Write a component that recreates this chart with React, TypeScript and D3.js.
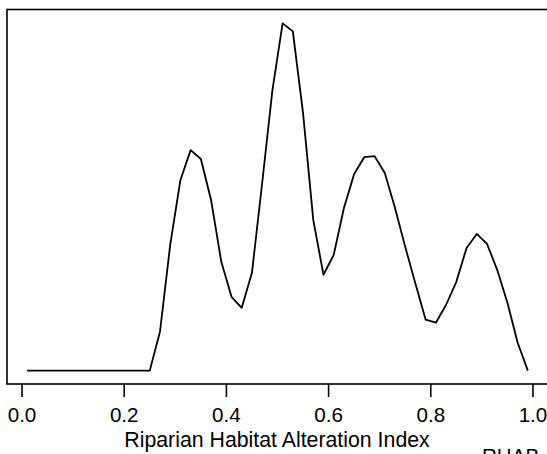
import React from "react";
import * as d3 from "d3";

const xValues = [
  0.01, 0.03, 0.05, 0.07, 0.09, 0.11, 0.13, 0.15, 0.17, 0.19, 0.21, 0.23, 0.25,
  0.27, 0.29, 0.31, 0.33, 0.35, 0.37, 0.39, 0.41, 0.43, 0.45, 0.47, 0.49, 0.51,
  0.53, 0.55, 0.57, 0.59, 0.61, 0.63, 0.65, 0.67, 0.69, 0.71, 0.73, 0.75, 0.77,
  0.79, 0.81, 0.83, 0.85, 0.87, 0.89, 0.91, 0.93, 0.95, 0.97, 0.99,
];
const densityValues = [
  0, 0, 0, 0, 0, 0, 0, 0, 0, 0, 0, 0, 0,
  0.336, 1.086, 1.647, 1.905, 1.828, 1.474, 0.94, 0.638, 0.543, 0.845, 1.621, 2.422, 3.0,
  2.931, 2.224, 1.302, 0.828, 1.0, 1.405, 1.698, 1.845, 1.853, 1.707, 1.405, 1.069, 0.75,
  0.44, 0.414, 0.569, 0.767, 1.06, 1.181, 1.095, 0.871, 0.586, 0.241, 0,
];
const xTicks = [0, 0.2, 0.4, 0.6, 0.8, 1.0];
const xTitle = "Riparian Habitat Alteration Index";
const cornerLabel = "RHAB";

const W = 547;
const H = 454;
const left = 7;
const right = 548;
const top = 9.5;
const bottom = 384;

export default function App() {
  const x = d3.scaleLinear().domain([-0.0294, 1.0294]).range([left, right]);
  const y = d3.scaleLinear().domain([-0.12, 3.12]).range([bottom + 0.5, top]);
  const pts = xValues.map((v, i) => [v, densityValues[i]] as [number, number]);
  const line = d3
    .line<[number, number]>()
    .x((d) => x(d[0]))
    .y((d) => y(d[1]));
  const font = "'Liberation Sans', Arial, Helvetica, sans-serif";
  return (
    <svg
      width={W}
      height={H}
      style={{ position: "absolute", left: 0, top: 0, background: "#fff" }}
    >
      <rect x={0} y={0} width={W} height={H} fill="#fff" />
      <rect
        x={left}
        y={top}
        width={right - left}
        height={bottom - top}
        fill="none"
        stroke="#000"
        strokeWidth={1.6}
      />
      <path d={line(pts) || ""} fill="none" stroke="#000" strokeWidth={1.8} strokeLinejoin="round" />
      {xTicks.map((t) => (
        <g key={t}>
          <line x1={x(t)} x2={x(t)} y1={bottom} y2={bottom + 13} stroke="#000" strokeWidth={1.6} />
          <text
            x={x(t)}
            y={421.5}
            textAnchor="middle"
            fontFamily={font}
            fontSize={20.6}
            fill="#000"
          >
            {t.toFixed(1)}
          </text>
        </g>
      ))}
      <text
        x={277}
        y={446.5}
        textAnchor="middle"
        fontFamily={font}
        fontSize={21.3}
        fill="#000"
      >
        {xTitle}
      </text>
      <text x={482} y={463} fontFamily={font} fontSize={20.6} fill="#000">
        {cornerLabel}
      </text>
    </svg>
  );
}
